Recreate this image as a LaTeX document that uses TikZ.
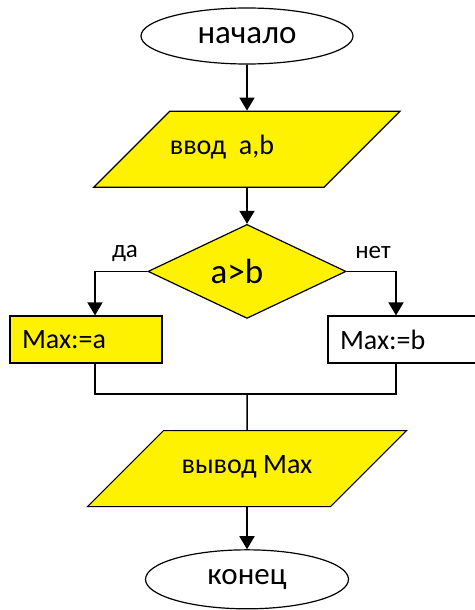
\documentclass[tikz,border=0pt]{standalone}
\usepackage{fontspec}
\setmainfont{Carlito}
\usetikzlibrary{positioning, arrows.meta, shapes.geometric}

\begin{document}
\begin{tikzpicture}[
    x=1pt, y=1pt,
    % Node styles
    terminal/.style={
        ellipse,
        draw=black,
        line width=1.2pt,
        fill=white,
        minimum width=212pt,
        minimum height=56pt,
        inner sep=0pt,
        font=\fontsize{33}{36}\selectfont
    },
    io/.style={
        trapezium,
        trapezium left angle=45,
        trapezium right angle=135,
        trapezium stretches body,
        draw=black,
        line width=1.2pt,
        fill=yellow,
        minimum width=#1,
        text height=14pt,
        text depth=4pt,
        inner xsep=0pt,
        inner ysep=29pt,
        font=\fontsize{28}{32}\selectfont
    },
    cond/.style={
        diamond,
        aspect=2.1,
        draw=black,
        line width=1.2pt,
        fill=yellow,
        minimum width=198pt,
        minimum height=94pt,
        inner sep=0pt,
        font=\fontsize{35}{38}\selectfont
    },
    procbox/.style={
        rectangle,
        draw=black,
        line width=1.2pt,
        fill=#1,
        minimum height=47pt,
        text width=128pt,
        inner xsep=12pt,
        inner ysep=0pt,
        align=left,
        font=\fontsize{28}{32}\selectfont
    },
    procbox/.default=white,
    branch/.style={
        font=\fontsize{25}{28}\selectfont,
        inner sep=0pt
    },
    arrow/.style={
        -{Triangle[length=13pt, width=15pt]},
        line width=1.8pt,
        draw=black
    },
    link/.style={
        line width=1.5pt,
        draw=black
    }
]

\useasboundingbox (0,0) rectangle (474,-610);

% Start and input
\node[terminal] (start) at (247,-36) {начало};
\node[io=291pt, below=46pt of start] (input) {ввод\ \ a,b\hspace*{50pt}};

% Condition
\node[cond, below=36pt of input] (cmp) {\raisebox{-7pt}{a>b}\hspace*{20pt}};
\node[branch] (yes) at (125,-253) {да};
\node[branch] (no) at (373,-253) {нет};

% Branches
\node[procbox=yellow] (maxa) at (86,-339.5) {Max:=a};
\node[procbox] (maxb) at (404,-339.5) {Max:=b};

% Output and end
\node[io=319pt, below=111pt of cmp] (output) {вывод Max};
\node[terminal, minimum width=203pt, minimum height=59pt, font=\fontsize{31}{34}\selectfont, below=42pt of output] (finish) {конец};

% Arrows
\draw[arrow] (start) -- (input);
\draw[arrow] (input) -- (cmp);
\draw[arrow] (cmp.west) -| ([xshift=9pt]maxa.north);
\draw[arrow] (cmp.east) -| ([xshift=-8pt]maxb.north);

% Join of the two branches
\coordinate (join) at (cmp |- 0,-394);
\draw[link] ([xshift=9pt]maxa.south) |- (join) -| ([xshift=-8pt]maxb.south);
\draw[link] (join) -- (output);
\draw[arrow] (output) -- (finish);

\end{tikzpicture}
\end{document}
